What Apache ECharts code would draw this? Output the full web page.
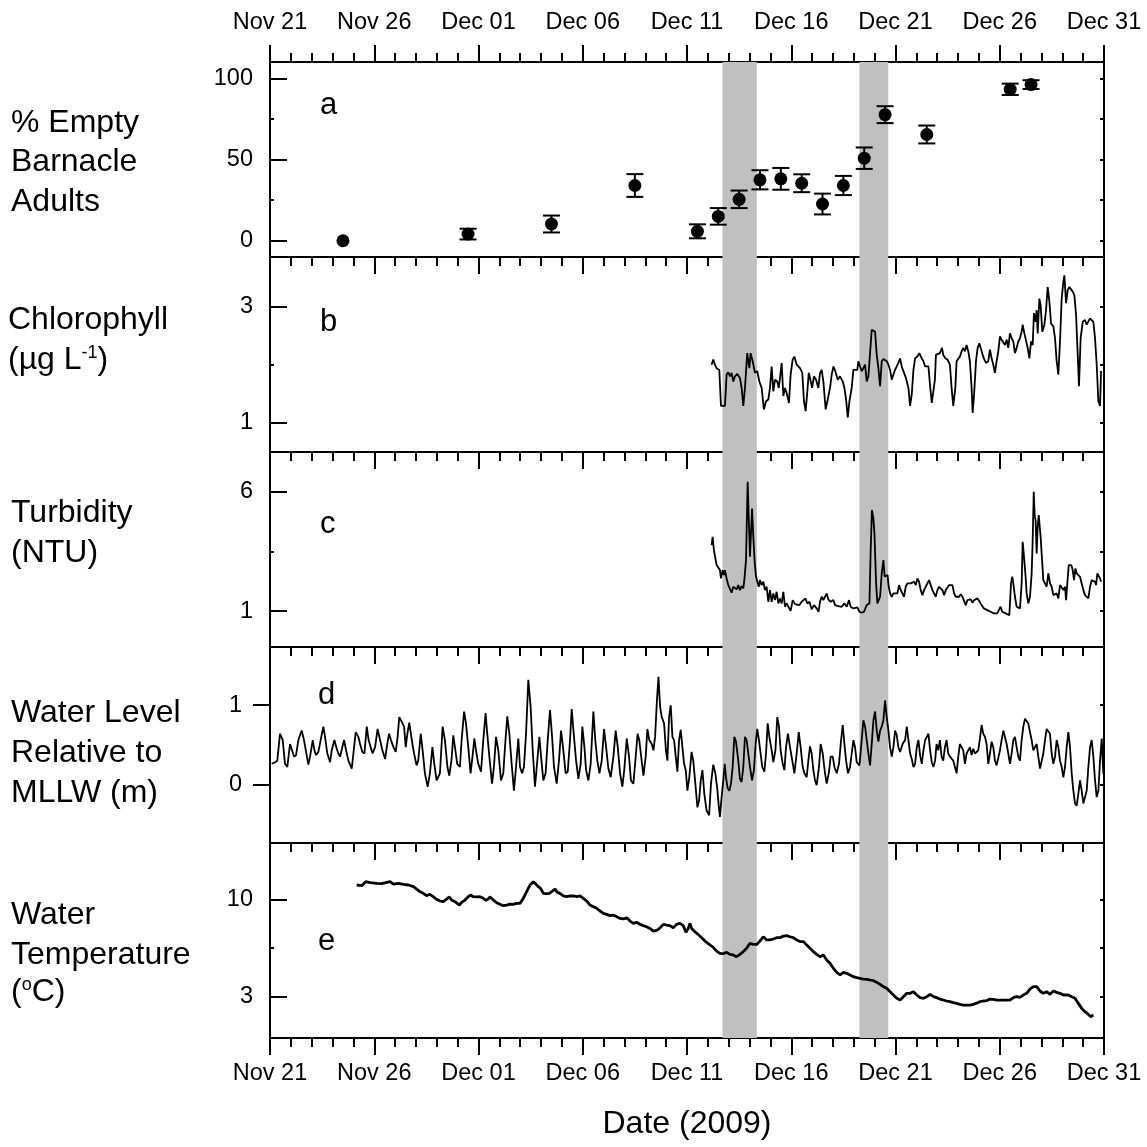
<!DOCTYPE html>
<html><head><meta charset="utf-8">
<script src="https://cdn.jsdelivr.net/npm/echarts@6/dist/echarts.min.js"></script>
<style>html,body{margin:0;padding:0;background:#fff}#c{width:1147px;height:1147px}</style>
</head><body><div id="c"></div>
<script>
// x values are days since Nov 21 2009 00:00
const tickLabels = ['Nov 21','Nov 26','Dec 01','Dec 06','Dec 11','Dec 16','Dec 21','Dec 26','Dec 31'];
const bandStart = [21.7, 28.27];
const bandEnd = [23.35, 29.65];

const barnacleDay = [3.5, 9.5, 13.5, 17.5, 20.5, 21.5, 22.5, 23.5, 24.5, 25.5, 26.5, 27.5, 28.5, 29.5, 31.5, 35.5, 36.5];
const barnaclePct = [0, 4.1, 10.3, 34, 5.8, 15, 25.5, 37.5, 38.1, 35.4, 22.6, 34, 50.8, 77.6, 65.4, 93.2, 96.1];
const barnacleErr = [0, 3.3, 5.2, 7, 4.3, 5.1, 5.4, 5.9, 6.7, 5.5, 6.4, 5.9, 6.6, 5.2, 5.5, 3.5, 2.7];

const chlorophyll = [[21.18,2.00],[21.26,2.09],[21.34,2.00],[21.42,1.94],[21.55,1.91],[21.63,1.29],[21.82,1.29],[21.90,1.83],[21.98,1.87],[22.06,1.80],[22.14,1.86],[22.22,1.71],[22.30,1.80],[22.41,1.84],[22.54,1.77],[22.62,1.60],[22.70,1.29],[22.78,1.60],[22.89,2.20],[22.99,1.94],[23.05,2.20],[23.15,2.06],[23.26,1.86],[23.37,1.89],[23.47,1.71],[23.58,1.60],[23.69,1.23],[23.79,1.37],[23.90,1.40],[23.98,1.60],[24.06,1.97],[24.14,1.54],[24.22,1.74],[24.33,1.71],[24.40,1.60],[24.46,1.77],[24.54,2.03],[24.62,1.46],[24.70,1.60],[24.78,1.51],[24.89,1.34],[24.97,1.83],[25.07,2.09],[25.15,2.14],[25.26,2.00],[25.34,2.03],[25.42,1.94],[25.53,1.86],[25.61,1.37],[25.69,1.20],[25.76,1.49],[25.84,1.86],[25.90,1.77],[26.00,1.60],[26.09,1.80],[26.19,1.74],[26.30,1.60],[26.38,1.86],[26.46,1.91],[26.54,1.71],[26.65,1.23],[26.75,1.40],[26.86,1.60],[26.94,1.83],[27.02,1.97],[27.11,1.89],[27.23,1.74],[27.34,1.80],[27.47,1.71],[27.55,1.60],[27.63,1.40],[27.71,1.09],[27.79,1.37],[27.90,1.60],[27.98,1.91],[28.06,1.94],[28.17,1.91],[28.22,2.06],[28.30,1.97],[28.38,1.89],[28.46,1.94],[28.54,2.00],[28.62,1.71],[28.70,1.80],[28.78,1.77],[28.86,2.60],[28.94,2.57],[29.02,2.57],[29.10,2.17],[29.18,1.94],[29.26,1.63],[29.34,2.06],[29.42,2.10],[29.50,2.11],[29.58,2.06],[29.66,2.00],[29.74,1.91],[29.82,1.74],[29.90,1.83],[29.98,1.91],[30.06,1.97],[30.14,2.03],[30.22,2.11],[30.30,1.97],[30.38,1.89],[30.50,1.77],[30.62,1.60],[30.70,1.29],[30.78,1.49],[30.86,1.91],[30.94,2.11],[31.05,2.14],[31.14,2.20],[31.26,2.11],[31.34,2.06],[31.42,1.97],[31.50,1.94],[31.58,1.97],[31.66,1.63],[31.74,1.34],[31.82,1.31],[31.89,1.74],[31.94,2.17],[32.02,2.17],[32.13,2.20],[32.23,2.29],[32.29,2.17],[32.39,2.11],[32.49,2.09],[32.57,2.06],[32.61,2.00],[32.69,1.60],[32.77,1.29],[32.87,1.60],[32.93,2.06],[33.01,2.06],[33.09,2.14],[33.17,2.23],[33.25,2.29],[33.33,2.23],[33.41,2.34],[33.49,2.23],[33.57,2.06],[33.65,1.60],[33.70,1.17],[33.77,1.49],[33.86,2.06],[33.94,2.29],[34.02,2.37],[34.10,2.34],[34.18,2.17],[34.26,2.09],[34.34,2.03],[34.45,2.06],[34.53,2.26],[34.61,2.11],[34.69,2.00],[34.77,1.86],[34.85,2.06],[34.93,2.23],[35.01,2.49],[35.09,2.43],[35.17,2.46],[35.25,2.34],[35.33,2.43],[35.41,2.29],[35.49,2.54],[35.57,2.46],[35.65,2.40],[35.73,2.20],[35.81,2.29],[35.89,2.40],[35.97,2.46],[36.05,2.57],[36.10,2.69],[36.18,2.54],[36.26,2.51],[36.34,2.29],[36.42,2.11],[36.50,2.40],[36.58,2.34],[36.64,2.89],[36.71,2.74],[36.77,2.94],[36.82,2.54],[36.90,3.14],[36.96,3.03],[37.04,2.57],[37.14,2.69],[37.22,2.94],[37.30,3.34],[37.38,3.09],[37.46,2.71],[37.57,2.66],[37.65,2.46],[37.73,2.06],[37.81,1.83],[37.89,2.40],[37.97,3.14],[38.05,3.43],[38.10,3.54],[38.18,3.06],[38.26,3.29],[38.34,3.34],[38.42,3.31],[38.50,3.26],[38.58,3.20],[38.66,2.86],[38.74,2.17],[38.80,1.63],[38.88,2.46],[38.98,2.74],[39.09,2.77],[39.17,2.69],[39.25,2.71],[39.33,2.80],[39.41,2.77],[39.49,2.74],[39.57,2.46],[39.65,2.00],[39.73,1.37],[39.81,1.29],[39.86,1.89]];

const turbidity = [[21.18,3.77],[21.23,4.12],[21.29,3.56],[21.34,3.56],[21.42,2.93],[21.50,2.86],[21.58,2.72],[21.63,2.37],[21.71,2.72],[21.77,2.51],[21.82,2.72],[21.90,2.37],[21.98,2.09],[22.06,2.16],[22.14,1.77],[22.22,2.02],[22.30,2.09],[22.38,1.91],[22.46,2.09],[22.54,1.88],[22.62,2.05],[22.70,1.95],[22.75,2.30],[22.83,3.14],[22.91,6.43],[22.96,4.96],[23.02,3.28],[23.07,3.21],[23.12,5.31],[23.18,4.12],[23.25,3.00],[23.31,2.44],[23.37,2.44],[23.44,2.02],[23.50,2.30],[23.58,2.09],[23.66,2.23],[23.74,1.88],[23.82,2.02],[23.90,1.39],[23.98,1.88],[24.06,1.39],[24.14,1.74],[24.22,1.46],[24.30,1.81],[24.38,1.32],[24.46,1.53],[24.54,1.32],[24.62,1.81],[24.70,1.18],[24.78,1.32],[24.86,1.25],[24.97,1.01],[25.07,1.46],[25.18,1.29],[25.26,1.32],[25.39,1.25],[25.50,1.39],[25.58,1.32],[25.68,1.53],[25.77,1.32],[25.87,1.39],[25.98,1.07],[26.09,1.25],[26.22,1.11],[26.31,0.97],[26.38,1.39],[26.46,1.60],[26.54,1.46],[26.62,1.60],[26.70,1.74],[26.78,1.49],[26.89,1.39],[27.02,1.46],[27.10,1.25],[27.26,1.21],[27.42,1.18],[27.55,1.32],[27.66,1.18],[27.77,1.46],[27.85,1.18],[27.98,1.11],[28.06,1.04],[28.17,1.15],[28.27,0.97],[28.38,0.93],[28.49,0.97],[28.62,1.25],[28.75,1.32],[28.81,3.56],[28.87,5.24],[28.94,4.89],[28.99,4.26],[29.07,2.16],[29.13,1.32],[29.19,1.25],[29.26,1.60],[29.34,2.58],[29.42,3.14],[29.48,2.44],[29.54,2.44],[29.62,2.51],[29.67,2.05],[29.74,1.74],[29.82,1.60],[29.90,1.74],[29.98,1.81],[30.09,1.74],[30.17,2.09],[30.25,1.88],[30.33,1.74],[30.41,1.60],[30.49,2.02],[30.57,2.16],[30.65,2.23],[30.73,2.16],[30.81,2.16],[30.89,2.23],[30.97,2.09],[31.05,2.37],[31.13,2.23],[31.21,1.88],[31.29,1.67],[31.37,1.88],[31.45,2.02],[31.53,2.16],[31.61,2.30],[31.69,2.09],[31.77,1.88],[31.85,1.81],[31.93,1.60],[32.01,1.88],[32.09,2.02],[32.17,2.09],[32.25,1.88],[32.33,1.67],[32.41,1.88],[32.49,1.95],[32.57,2.09],[32.65,2.16],[32.73,2.09],[32.81,1.74],[32.89,1.60],[32.97,1.53],[33.05,1.60],[33.13,1.71],[33.21,1.60],[33.29,1.43],[33.37,1.25],[33.45,1.46],[33.53,1.39],[33.61,1.49],[33.69,1.35],[33.77,1.46],[33.85,1.39],[33.93,1.53],[34.01,1.43],[34.08,1.32],[34.16,1.25],[34.24,1.11],[34.32,1.07],[34.40,1.04],[34.48,1.01],[34.56,0.97],[34.64,1.00],[34.72,0.90],[34.80,0.93],[34.88,0.90],[34.96,0.97],[35.04,1.18],[35.12,0.97],[35.20,0.93],[35.28,0.90],[35.36,0.87],[35.46,0.83],[35.54,2.16],[35.60,2.44],[35.65,2.16],[35.73,1.60],[35.81,1.18],[35.89,1.11],[35.97,1.11],[36.05,2.16],[36.10,3.91],[36.15,3.42],[36.20,3.35],[36.24,2.44],[36.29,1.74],[36.37,1.32],[36.45,1.60],[36.53,2.58],[36.58,3.98],[36.63,6.01],[36.68,4.96],[36.72,4.82],[36.77,3.42],[36.82,4.54],[36.87,5.03],[36.91,4.96],[36.96,4.12],[37.03,3.14],[37.09,2.30],[37.17,2.16],[37.25,2.02],[37.33,2.58],[37.41,2.16],[37.49,2.02],[37.57,1.67],[37.65,1.60],[37.73,1.74],[37.81,1.53],[37.89,2.09],[37.97,2.02],[38.05,1.88],[38.13,2.02],[38.18,1.46],[38.24,2.16],[38.31,2.93],[38.37,2.86],[38.43,2.93],[38.50,2.72],[38.56,2.30],[38.63,2.79],[38.69,2.58],[38.77,2.65],[38.85,2.44],[38.93,2.16],[39.01,1.88],[39.09,1.67],[39.17,1.60],[39.25,1.53],[39.33,2.02],[39.41,2.30],[39.49,2.37],[39.57,2.23],[39.62,2.09],[39.68,2.58],[39.74,2.51],[39.81,2.37],[39.86,2.23]];

const waterLevel = [[0.08,0.26],[0.24,0.28],[0.35,0.30],[0.48,0.64],[0.61,0.56],[0.72,0.26],[0.83,0.22],[0.96,0.51],[1.06,0.43],[1.15,0.35],[1.25,0.37],[1.36,0.56],[1.52,0.68],[1.63,0.56],[1.73,0.41],[1.84,0.25],[1.92,0.35],[2.05,0.56],[2.13,0.43],[2.21,0.37],[2.32,0.41],[2.43,0.56],[2.56,0.73],[2.64,0.60],[2.75,0.39],[2.88,0.28],[2.96,0.43],[3.09,0.56],[3.20,0.45],[3.28,0.39],[3.36,0.35],[3.44,0.35],[3.55,0.56],[3.65,0.43],[3.76,0.30],[3.92,0.20],[4.00,0.39],[4.11,0.66],[4.24,0.60],[4.32,0.51],[4.43,0.41],[4.53,0.39],[4.64,0.73],[4.73,0.56],[4.83,0.47],[4.92,0.39],[5.04,0.47],[5.16,0.70],[5.28,0.56],[5.39,0.43],[5.52,0.32],[5.60,0.47],[5.71,0.64],[5.80,0.56],[5.92,0.47],[6.03,0.41],[6.12,0.60],[6.20,0.85],[6.32,0.79],[6.43,0.73],[6.51,0.47],[6.59,0.64],[6.68,0.78],[6.80,0.56],[6.91,0.39],[7.03,0.24],[7.11,0.30],[7.23,0.64],[7.32,0.43],[7.43,0.14],[7.56,-0.03],[7.67,0.14],[7.79,0.47],[7.88,0.26],[7.99,0.05],[8.15,0.14],[8.28,0.73],[8.39,0.56],[8.51,0.22],[8.60,0.11],[8.71,0.32],[8.79,0.62],[8.87,0.47],[8.98,0.26],[9.11,0.22],[9.19,0.56],[9.31,0.92],[9.40,0.77],[9.51,0.47],[9.62,0.14],[9.72,0.37],[9.80,0.58],[9.88,0.43],[9.99,0.26],[10.12,0.16],[10.23,0.56],[10.34,0.90],[10.42,0.64],[10.52,0.35],[10.65,0.01],[10.74,0.22],[10.84,0.60],[10.95,0.43],[11.08,0.05],[11.19,0.14],[11.27,0.47],[11.38,0.86],[11.48,0.64],[11.59,0.26],[11.70,-0.08],[11.80,0.22],[11.91,0.58],[11.99,0.22],[12.09,0.14],[12.18,0.22],[12.28,0.64],[12.39,1.32],[12.50,0.98],[12.60,0.43],[12.71,-0.03],[12.82,0.30],[12.92,0.60],[13.00,0.35],[13.11,0.05],[13.22,0.14],[13.32,0.56],[13.43,0.94],[13.53,0.60],[13.62,0.22],[13.75,0.01],[13.86,0.30],[13.96,0.68],[14.07,0.43],[14.18,0.14],[14.28,0.16],[14.39,0.56],[14.47,0.95],[14.58,0.60],[14.68,0.30],[14.79,0.07],[14.90,0.26],[14.98,0.73],[15.08,0.47],[15.16,0.18],[15.27,0.05],[15.38,0.26],[15.51,0.92],[15.60,0.56],[15.70,0.30],[15.80,0.14],[15.91,0.30],[16.02,0.70],[16.12,0.47],[16.23,0.20],[16.34,0.09],[16.47,0.35],[16.58,0.68],[16.68,0.47],[16.79,0.14],[16.90,-0.03],[16.99,0.18],[17.11,0.58],[17.22,0.35],[17.31,0.05],[17.43,0.01],[17.54,0.35],[17.63,0.64],[17.71,0.56],[17.79,0.54],[17.91,0.11],[18.02,0.35],[18.10,0.70],[18.19,0.56],[18.31,0.51],[18.39,0.43],[18.47,0.60],[18.55,1.02],[18.63,1.36],[18.71,0.98],[18.79,0.85],[18.90,0.77],[18.99,0.43],[19.06,0.30],[19.14,0.85],[19.22,1.00],[19.30,0.60],[19.38,0.56],[19.46,0.35],[19.54,0.16],[19.62,0.56],[19.70,0.69],[19.78,0.47],[19.86,0.26],[19.94,0.18],[20.02,-0.08],[20.11,0.09],[20.22,0.41],[20.30,0.30],[20.40,0.01],[20.50,-0.29],[20.58,-0.20],[20.66,0.05],[20.74,0.18],[20.83,-0.12],[20.94,-0.33],[21.06,-0.39],[21.15,0.01],[21.26,0.25],[21.36,0.14],[21.45,-0.05],[21.53,-0.29],[21.58,-0.41],[21.66,-0.16],[21.74,0.05],[21.81,0.26],[21.87,0.09],[21.95,-0.05],[22.03,-0.08],[22.11,0.01],[22.19,0.22],[22.27,0.60],[22.35,0.54],[22.46,0.30],[22.54,0.07],[22.62,0.03],[22.70,0.22],[22.78,0.60],[22.86,0.56],[22.94,0.39],[23.02,0.22],[23.12,0.05],[23.21,0.18],[23.29,0.51],[23.37,0.70],[23.45,0.56],[23.53,0.39],[23.61,0.22],[23.71,0.16],[23.79,0.39],[23.87,0.77],[23.95,0.60],[24.06,0.43],[24.14,0.28],[24.24,0.43],[24.33,0.85],[24.41,0.73],[24.49,0.43],[24.59,0.26],[24.67,0.18],[24.75,0.47],[24.84,0.64],[24.94,0.47],[25.05,0.30],[25.15,0.14],[25.26,0.39],[25.36,0.66],[25.45,0.47],[25.55,0.22],[25.63,0.14],[25.74,0.09],[25.82,0.30],[25.90,0.48],[25.98,0.39],[26.06,0.18],[26.14,0.05],[26.22,-0.01],[26.33,0.22],[26.41,0.51],[26.51,0.39],[26.62,0.14],[26.70,0.01],[26.81,0.16],[26.89,0.35],[26.99,0.35],[27.07,0.22],[27.18,0.14],[27.29,0.26],[27.39,0.56],[27.47,0.75],[27.55,0.51],[27.63,0.30],[27.72,0.14],[27.82,0.22],[27.90,0.39],[27.98,0.56],[28.06,0.47],[28.14,0.28],[28.27,0.24],[28.35,0.47],[28.46,0.81],[28.54,0.73],[28.62,0.56],[28.70,0.39],[28.78,0.24],[28.86,0.51],[28.94,0.81],[29.02,0.92],[29.10,0.68],[29.18,0.54],[29.26,0.68],[29.34,0.73],[29.42,0.81],[29.50,1.06],[29.58,0.85],[29.66,0.68],[29.74,0.47],[29.82,0.35],[29.90,0.47],[29.98,0.68],[30.06,0.62],[30.14,0.47],[30.22,0.41],[30.34,0.51],[30.46,0.56],[30.54,0.73],[30.62,0.56],[30.70,0.39],[30.78,0.32],[30.86,0.22],[30.94,0.26],[31.02,0.47],[31.10,0.56],[31.18,0.37],[31.26,0.26],[31.34,0.43],[31.42,0.56],[31.50,0.60],[31.58,0.64],[31.66,0.43],[31.74,0.28],[31.82,0.22],[31.90,0.30],[31.97,0.51],[32.05,0.43],[32.13,0.56],[32.21,0.35],[32.29,0.30],[32.37,0.47],[32.45,0.56],[32.53,0.39],[32.61,0.35],[32.69,0.37],[32.77,0.30],[32.85,0.22],[32.93,0.14],[33.01,0.35],[33.09,0.51],[33.17,0.47],[33.25,0.43],[33.33,0.26],[33.41,0.39],[33.49,0.43],[33.57,0.47],[33.65,0.37],[33.73,0.45],[33.81,0.39],[33.89,0.37],[33.97,0.43],[34.05,0.58],[34.13,0.75],[34.21,0.64],[34.29,0.60],[34.37,0.51],[34.45,0.26],[34.53,0.39],[34.61,0.54],[34.69,0.47],[34.77,0.30],[34.85,0.24],[34.93,0.26],[35.01,0.43],[35.09,0.56],[35.17,0.68],[35.25,0.60],[35.33,0.51],[35.41,0.39],[35.49,0.26],[35.57,0.39],[35.65,0.56],[35.73,0.60],[35.81,0.47],[35.89,0.35],[35.97,0.30],[36.05,0.56],[36.13,0.73],[36.21,0.83],[36.29,0.85],[36.37,0.77],[36.45,0.66],[36.53,0.56],[36.61,0.43],[36.69,0.47],[36.77,0.51],[36.85,0.35],[36.93,0.20],[37.01,0.18],[37.09,0.39],[37.17,0.56],[37.25,0.70],[37.33,0.70],[37.41,0.64],[37.49,0.39],[37.57,0.26],[37.65,0.35],[37.73,0.56],[37.81,0.47],[37.89,0.30],[37.97,0.22],[38.05,0.09],[38.13,0.22],[38.21,0.47],[38.29,0.66],[38.37,0.47],[38.45,0.14],[38.53,-0.08],[38.61,-0.24],[38.69,-0.27],[38.77,-0.12],[38.85,0.05],[38.93,-0.08],[39.01,-0.24],[39.09,-0.22],[39.17,-0.08],[39.25,0.22],[39.33,0.47],[39.41,0.56],[39.49,0.35],[39.57,0.05],[39.65,-0.16],[39.73,-0.08],[39.81,0.30],[39.89,0.58],[39.97,0.13]];

const waterTemp = [[4.16,11.03],[4.40,10.98],[4.59,11.27],[4.80,11.20],[5.12,11.15],[5.36,11.13],[5.60,11.22],[5.76,11.27],[5.92,11.10],[6.16,11.15],[6.40,11.08],[6.64,11.03],[6.88,10.91],[7.03,10.74],[7.19,10.55],[7.35,10.43],[7.51,10.26],[7.67,10.36],[7.83,10.19],[7.99,10.00],[8.15,9.88],[8.31,9.83],[8.47,10.02],[8.60,10.17],[8.71,9.95],[8.87,9.83],[9.08,9.59],[9.19,9.78],[9.35,9.95],[9.51,10.19],[9.62,10.31],[9.75,10.19],[9.91,10.17],[10.07,10.19],[10.23,10.07],[10.36,9.93],[10.47,10.02],[10.55,10.19],[10.71,9.95],[10.87,9.76],[11.03,9.64],[11.19,9.54],[11.35,9.59],[11.51,9.66],[11.67,9.64],[11.83,9.71],[11.99,9.71],[12.15,10.07],[12.31,10.55],[12.47,11.03],[12.63,11.27],[12.76,11.08],[12.87,10.91],[12.98,10.79],[13.11,10.43],[13.27,10.41],[13.40,10.43],[13.51,10.55],[13.67,10.74],[13.78,10.50],[13.91,10.43],[14.07,10.24],[14.23,10.19],[14.39,10.24],[14.55,10.24],[14.71,10.19],[14.87,10.24],[15.03,10.07],[15.19,9.88],[15.35,9.59],[15.51,9.47],[15.67,9.35],[15.83,9.16],[15.99,8.99],[16.15,8.92],[16.31,8.83],[16.47,8.87],[16.63,8.75],[16.79,8.63],[16.95,8.59],[17.11,8.68],[17.27,8.44],[17.43,8.27],[17.59,8.35],[17.75,8.20],[17.90,8.11],[18.06,8.03],[18.22,7.91],[18.39,7.72],[18.47,7.60],[18.58,7.79],[18.71,7.96],[18.87,8.20],[19.02,8.15],[19.18,8.11],[19.34,7.96],[19.50,8.20],[19.66,8.27],[19.82,8.11],[19.95,7.63],[20.06,7.91],[20.14,8.27],[20.22,7.91],[20.38,7.67],[20.62,7.36],[20.86,7.00],[21.10,6.72],[21.26,6.55],[21.42,6.28],[21.58,6.12],[21.74,6.09],[21.90,6.19],[22.06,6.04],[22.22,6.00],[22.38,5.88],[22.54,6.04],[22.70,6.24],[22.86,6.48],[23.02,6.84],[23.18,6.76],[23.34,6.76],[23.50,7.00],[23.66,7.31],[23.82,7.08],[23.98,7.08],[24.14,7.15],[24.30,7.24],[24.46,7.24],[24.62,7.36],[24.78,7.39],[24.94,7.31],[25.10,7.24],[25.26,7.08],[25.42,6.96],[25.58,6.96],[25.74,6.72],[25.90,6.48],[26.06,6.24],[26.22,6.04],[26.38,5.88],[26.54,6.00],[26.70,5.64],[26.86,5.40],[27.02,5.04],[27.18,4.75],[27.34,4.56],[27.50,4.75],[27.66,4.68],[27.82,4.56],[27.98,4.44],[28.14,4.37],[28.30,4.32],[28.46,4.27],[28.62,4.25],[28.78,4.20],[28.94,4.15],[29.10,4.03],[29.26,3.89],[29.42,3.72],[29.58,3.60],[29.74,3.36],[29.90,3.12],[30.06,2.88],[30.22,2.76],[30.38,3.00],[30.54,3.24],[30.70,3.24],[30.86,3.36],[31.02,3.12],[31.18,2.93],[31.34,2.88],[31.50,3.00],[31.66,3.17],[31.82,3.00],[31.97,2.93],[32.13,2.83],[32.29,2.76],[32.45,2.69],[32.61,2.64],[32.77,2.57],[32.93,2.52],[33.09,2.45],[33.25,2.40],[33.41,2.40],[33.57,2.40],[33.73,2.45],[33.89,2.54],[34.05,2.64],[34.21,2.69],[34.37,2.71],[34.53,2.83],[34.69,2.81],[34.85,2.76],[35.01,2.76],[35.17,2.76],[35.33,2.76],[35.49,2.76],[35.65,2.93],[35.81,3.00],[35.97,2.95],[36.13,3.12],[36.29,3.24],[36.45,3.55],[36.61,3.72],[36.77,3.72],[36.93,3.41],[37.09,3.24],[37.25,3.36],[37.41,3.17],[37.57,3.41],[37.73,3.31],[37.89,3.24],[38.05,3.12],[38.13,3.24],[38.29,3.12],[38.45,3.00],[38.61,2.88],[38.77,2.52],[38.93,2.16],[39.09,1.92],[39.25,1.73],[39.36,1.56],[39.49,1.68]];

// axis configuration per panel
const yMajor = [[0,50,100],[1,3],[1,6],[0,1],[3,10]];
const yMinor = [[25,75],[2],[3.5],[],[6.5]];
const yMin = [-10, 0.495, -0.51, -0.74, 0.03];
const yMax = [110, 3.857, 7.68, 1.735, 14.05];

const FONT = '"Liberation Sans", Arial, sans-serif';
const gridBoxes = [
  {top:62, height:195}, {top:257, height:195}, {top:452, height:195}, {top:647, height:196}, {top:843, height:195}
];
const chart = echarts.init(document.getElementById('c'), null, {renderer:'canvas'});
const grids = gridBoxes.map(g => ({left:270, width:834, top:g.top, height:g.height, show:true, borderColor:'#000', borderWidth:2, backgroundColor:'transparent', containLabel:false}));

const blk = {color:'#000', width:2};
const tickFont = 23.5;
const xAxes = [], yAxes = [], series = [];
const mainY = [];
function xAxisFor(i, pos, showLabel) {
  return {type:'value', gridIndex:i, position:pos, min:0, max:40, interval:5,
    axisLine:{show:true, onZero:false, lineStyle:blk},
    axisTick:{show:true, inside:false, length:17, lineStyle:blk},
    minorTick:{show:true, splitNumber:5, length:9, lineStyle:blk},
    axisLabel:{show:showLabel, margin: pos==='top'?27:24, color:'#000', fontSize:tickFont, fontFamily:FONT,
      formatter: v => tickLabels[Math.round(v/5)] || ''},
    splitLine:{show:false}, minorSplitLine:{show:false}};
}
for (let i = 0; i < 5; i++) {
  xAxes.push(xAxisFor(i, 'bottom', i === 4));
}
xAxes.push(xAxisFor(0, 'top', true));

for (let i = 0; i < 5; i++) {
  const outward = (i === 3);
  mainY.push(yAxes.length);
  yAxes.push({type:'value', gridIndex:i, position:'left', min:yMin[i], max:yMax[i],
    axisLine:{show:true, onZero:false, lineStyle:blk},
    axisTick:{show:true, customValues:yMajor[i], inside:!outward, length:17, lineStyle:blk},
    axisLabel:{show:true, customValues:yMajor[i], margin: outward?28:17, color:'#000', fontSize:tickFont, fontFamily:FONT},
    splitLine:{show:false}});
  if (yMinor[i].length) {
    yAxes.push({type:'value', gridIndex:i, position:'left', min:yMin[i], max:yMax[i],
      axisLine:{show:false}, axisTick:{show:true, customValues:yMinor[i], inside:true, length:4, lineStyle:blk},
      axisLabel:{show:false}, splitLine:{show:false}});
  }
  yAxes.push({type:'value', gridIndex:i, position:'right', min:yMin[i], max:yMax[i],
    axisLine:{show:true, onZero:false, lineStyle:blk},
    axisTick:{show:true, customValues:yMajor[i].concat(yMinor[i]), inside:true, length:4, lineStyle:blk},
    axisLabel:{show:false}, splitLine:{show:false}});
}

// shaded storm bands
const bandData = bandStart.map((s, k) => [s, bandEnd[k]]);
for (let i = 0; i < 5; i++) {
  series.push({type:'custom', xAxisIndex:i, yAxisIndex:mainY[i], z:1, silent:true,
    data: bandData, encode:{x:[0,1]},
    renderItem: (params, api) => {
      const cs = params.coordSys;
      const x0 = api.coord([api.value(0), yMin[i]])[0];
      const x1 = api.coord([api.value(1), yMin[i]])[0];
      return {type:'rect', shape:{x:x0, y:cs.y, width:x1 - x0, height:cs.height}, style:{fill:'#c0c0c0'}};
    }});
}

// panel a: error bars + points
const errData = barnacleDay.map((d, k) => [d, barnaclePct[k] - barnacleErr[k], barnaclePct[k] + barnacleErr[k]]).filter((r, k) => barnacleErr[k] > 0);
series.push({type:'custom', xAxisIndex:0, yAxisIndex:mainY[0], z:3, data: errData, encode:{x:0, y:[1,2]},
  renderItem: (params, api) => {
    const x = api.value(0);
    const lo = api.coord([x, api.value(1)]);
    const hi = api.coord([x, api.value(2)]);
    const w = 8.5;
    const st = {stroke:'#000', lineWidth:2};
    return {type:'group', children:[
      {type:'line', shape:{x1:lo[0], y1:lo[1], x2:hi[0], y2:hi[1]}, style:st},
      {type:'line', shape:{x1:lo[0]-w, y1:lo[1], x2:lo[0]+w, y2:lo[1]}, style:st},
      {type:'line', shape:{x1:hi[0]-w, y1:hi[1], x2:hi[0]+w, y2:hi[1]}, style:st}
    ]};
  }});
series.push({type:'scatter', xAxisIndex:0, yAxisIndex:mainY[0], z:4, symbol:'circle', symbolSize:13,
  itemStyle:{color:'#000', opacity:1}, emphasis:{disabled:true}, data: barnacleDay.map((d, k) => [d, barnaclePct[k]])});

function lineSeries(i, data, w) {
  return {type:'line', xAxisIndex:i, yAxisIndex:mainY[i], z:3, data:data, showSymbol:false, symbol:'none',
    lineStyle:{color:'#000', width:w}, clip:true};
}
series.push(lineSeries(1, chlorophyll, 1.8));
series.push(lineSeries(2, turbidity, 1.8));
series.push(lineSeries(3, waterLevel, 1.8));
series.push(lineSeries(4, waterTemp, 2.8));

// texts
const tFont = 32;
function txt(x, y, t, fs) {
  return {type:'text', x:x, y:y, z:10, style:{text:t, fill:'#000', fontSize:fs || tFont, fontFamily:FONT, verticalAlign:'middle', align:'left'}};
}
function rtxt(x, y, t) {
  return {type:'text', x:x, y:y, z:10, style:{text:t, fill:'#000', fontFamily:FONT, fontSize:tFont, verticalAlign:'middle', align:'left',
    rich:{n:{fontSize:tFont, fontFamily:FONT, fill:'#000'}, s:{fontSize:18, fontFamily:FONT, fill:'#000', verticalAlign:'top'}}}};
}
const graphics = [
  txt(11, 123, '% Empty'), txt(11, 162, 'Barnacle'), txt(11, 202, 'Adults'),
  txt(8, 320, 'Chlorophyll'), rtxt(8, 360, '{n|(µg L}{s|-1}{n|)}'),
  txt(11, 513, 'Turbidity'), txt(11, 553, '(NTU)'),
  txt(11, 713, 'Water Level'), txt(11, 753, 'Relative to'), txt(11, 793, 'MLLW (m)'),
  txt(11, 915, 'Water'), txt(11, 955, 'Temperature'), rtxt(11, 992, '{n|(}{s|o}{n|C)}'),
  txt(320, 105, 'a', 31), txt(320, 322, 'b', 31), txt(320, 524, 'c', 31), txt(318, 695, 'd', 31), txt(318, 941, 'e', 31),
  {type:'text', x:687, y:1124, z:10, style:{text:'Date (2009)', fill:'#000', fontSize:tFont, fontFamily:FONT, align:'center', verticalAlign:'middle'}}
];

chart.setOption({
  animation:false,
  backgroundColor:'#fff',
  grid: grids,
  xAxis: xAxes,
  yAxis: yAxes,
  series: series,
  graphic: graphics
});
</script>
</body></html>
